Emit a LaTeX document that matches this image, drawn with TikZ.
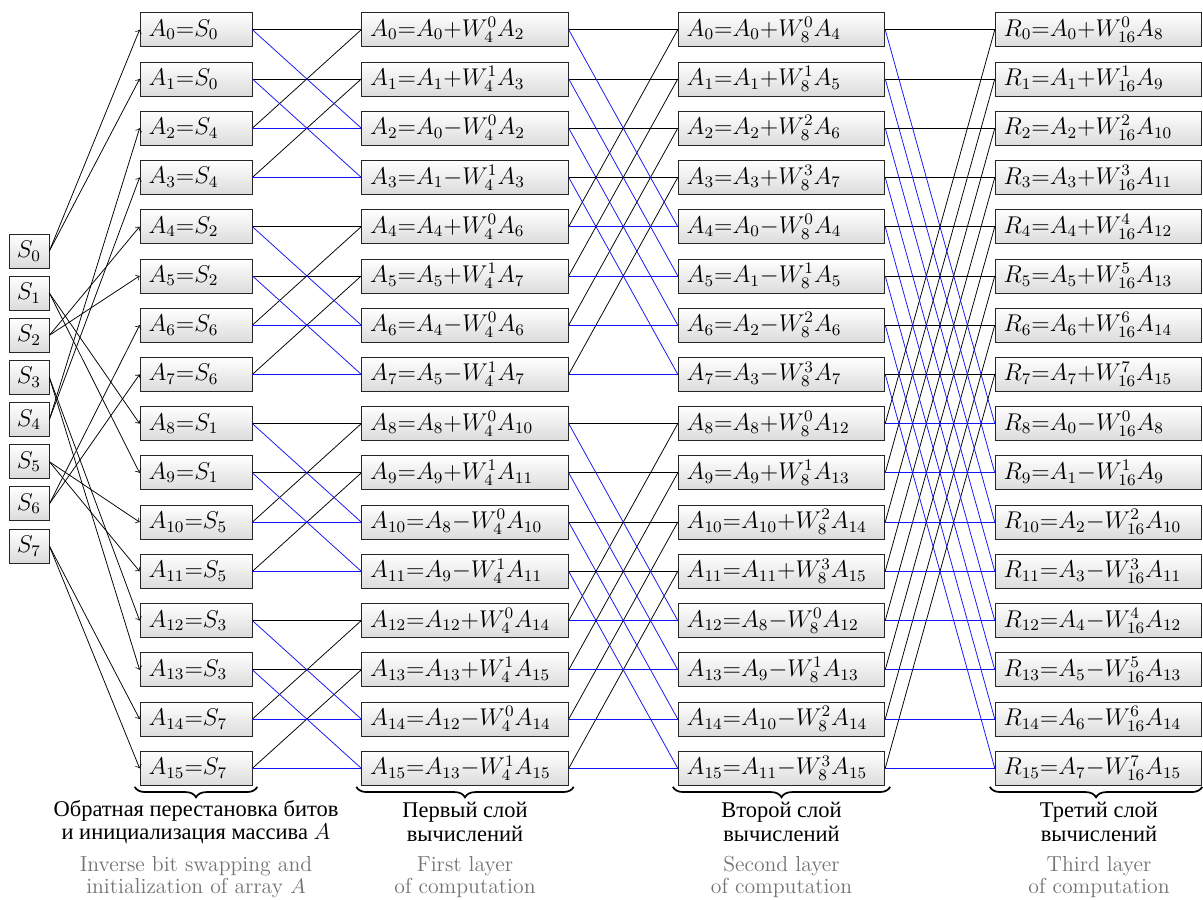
\documentclass[tikz,border=0pt]{standalone}
\usepackage{graphicx}
\usepackage{fontspec}
\newfontfamily\rusfont{Liberation Serif}
\usetikzlibrary{decorations.pathreplacing}
\definecolor{fftblue}{RGB}{20,20,245}
\thickmuskip=0mu
\medmuskip=0mu
\newcommand{\cellmath}[1]{\scalebox{1.06}{$#1$}}

\tikzset{
  cell/.style={draw=black!85,top color=white,bottom color=black!14,minimum height=17.85pt,inner xsep=4.5pt,inner ysep=0pt,align=left,font=\fontsize{12}{14}\selectfont},
  src/.style={cell,minimum width=21pt,inner xsep=1pt,align=center},
  init/.style={cell,text width=49.8pt},
  wide/.style={cell,text width=99.5pt},
  plus/.style={black},
  minus/.style={fftblue},
  brace/.style={decorate,decoration={brace,mirror,amplitude=5.5pt},line width=0.9pt},
  rulabel/.style={align=center,font=\rusfont\fontsize{11.8}{12.2}\selectfont},
  enlabel/.style={align=center,text=black!55,font=\fontsize{11.4}{11.6}\selectfont}
}

\begin{document}
\begin{tikzpicture}[x=0.525pt,y=-0.525pt,>=to]
  \useasboundingbox (0,0) rectangle (1203,900);
  % input samples
  \foreach \j in {0,...,7}
    \node[src] (S\j) at (29,{251+42.14*\j}) {\cellmath{S_{\j}}};
  % bit reversal
  \foreach \k/\s in {0/0,1/0,2/4,3/4,4/2,5/2,6/6,7/6,8/1,9/1,10/5,11/5,12/3,13/3,14/7,15/7}{
    \node[init] (L0-\k) at (196,{29.7+49.24*\k}) {\cellmath{A_{\k}=S_{\s}}};
    \draw[->] (S\s.east) -- (L0-\k.west);
  }
  % butterfly layers
  \foreach \L/\h/\N/\cx/\res in {1/2/4/465/A,2/4/8/781.5/A,3/8/16/1098.5/R}{
    \foreach \k in {0,...,15}{
      \pgfmathtruncatemacro\prev{\L-1}
      \pgfmathtruncatemacro\r{mod(\k,2*\h)}
      \ifnum\r<\h
        \pgfmathtruncatemacro\o{\k+\h}
        \node[wide] (L\L-\k) at (\cx,{29.7+49.24*\k}) {\cellmath{\res_{\k}=A_{\k}+W_{\N}^{\r}A_{\o}}};
        \draw[plus] (L\prev-\k.east) -- (L\L-\k.west);
        \draw[plus] (L\prev-\o.east) -- (L\L-\k.west);
      \else
        \pgfmathtruncatemacro\o{\k-\h}
        \pgfmathtruncatemacro\e{\r-\h}
        \node[wide] (L\L-\k) at (\cx,{29.7+49.24*\k}) {\cellmath{\res_{\k}=A_{\o}-W_{\N}^{\e}A_{\k}}};
        \draw[minus] (L\prev-\o.east) -- (L\L-\k.west);
        \draw[minus] (L\prev-\k.east) -- (L\L-\k.west);
      \fi
    }
  }
  % braces and captions
  \draw[brace] ([xshift=-2.6pt,yshift=-0.6pt]L0-15.south west) -- ([xshift=2.6pt,yshift=-0.6pt]L0-15.south east);
  \draw[brace] ([xshift=-2.6pt,yshift=-0.6pt]L1-15.south west) -- ([xshift=2.6pt,yshift=-0.6pt]L1-15.south east);
  \draw[brace] ([xshift=-2.6pt,yshift=-0.6pt]L2-15.south west) -- ([xshift=2.6pt,yshift=-0.6pt]L2-15.south east);
  \draw[brace] ([xshift=-2.6pt,yshift=-0.6pt]L3-15.south west) -- ([xshift=0pt,yshift=-0.6pt]L3-15.south east);
  \node[rulabel] (ru0) at (196,822) {Обратная перестановка битов\\и инициализация массива $A$};
  \node[rulabel] (ru1) at (465,822) {Первый слой\\вычислений};
  \node[rulabel] (ru2) at (781.5,822) {Второй слой\\вычислений};
  \node[rulabel] (ru3) at (1099,822) {Третий слой\\вычислений};
  \node[enlabel] (en0) at (196,877) {Inverse bit swapping and\\initialization of array $A$};
  \node[enlabel] (en1) at (465,877) {First layer\\of computation};
  \node[enlabel] (en2) at (781.5,877) {Second layer\\of computation};
  \node[enlabel] (en3) at (1099,877) {Third layer\\of computation};
\end{tikzpicture}
\end{document}
